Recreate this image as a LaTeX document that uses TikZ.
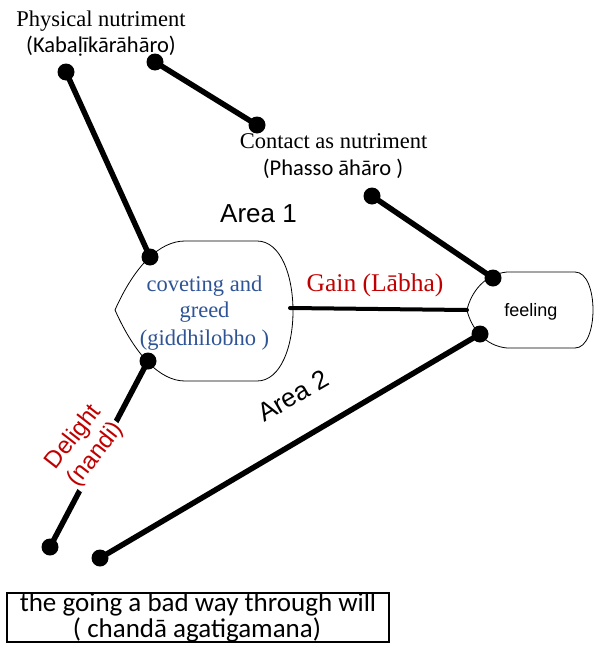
\documentclass[tikz,border=0pt]{standalone}
\usepackage{fontspec}
\setmainfont{Liberation Serif}
\newfontfamily\calfont{Carlito}
\newfontfamily\arialfont{Liberation Sans}
\definecolor{blueText}{RGB}{47,84,150}
\definecolor{redText}{RGB}{192,0,0}
\begin{document}
\begin{tikzpicture}[x=1pt,y=-1pt,
  conn/.style={line width=5.5pt},
  dotend/.style={circle,fill=black,inner sep=0pt,minimum size=17pt},
  shapeline/.style={line width=0.8pt},
  txt/.style={inner sep=0pt,anchor=base},
  serif22/.style={font=\fontsize{22.5}{27}\selectfont},
  cal22/.style={font=\calfont\fontsize{22.5}{27}\selectfont},
]
\useasboundingbox (0,0) rectangle (603,648);

% shapes
\draw[shapeline] (115,310) .. controls (135,265) and (160,241) .. (185,241) -- (257,241)
  .. controls (305,241) and (305,381) .. (257,381) -- (185,381)
  .. controls (160,381) and (135,355) .. (115,310) -- cycle;
\draw[shapeline] (467,310) .. controls (471,292) and (485,274) .. (507,272) -- (575,272)
  .. controls (599,272) and (599,348) .. (575,348) -- (507,348)
  .. controls (485,346) and (471,328) .. (467,310) -- cycle;

% endpoints
\node[dotend] (p1) at (66,72) {};
\node[dotend] (p2) at (150,257) {};
\node[dotend] (p3) at (155,62) {};
\node[dotend] (p4) at (257,125) {};
\node[dotend] (p5) at (372,196) {};
\node[dotend] (p6) at (493,278) {};
\node[dotend] (p7) at (148,361) {};
\node[dotend] (p8) at (50,547) {};
\node[dotend] (p9) at (480,334) {};
\node[dotend] (p10) at (100,558) {};
\coordinate (g1) at (290,308);
\coordinate (g2) at (467,310);

\draw[conn] (p1.center) -- (p2.center);
\draw[conn] (p3.center) -- (p4.center);
\draw[conn] (p5.center) -- (p6.center);
\draw[conn] (p7.center) -- (p8.center);
\draw[conn] (p9.center) -- (p10.center);
\draw[line width=4pt,line cap=round] (g1) -- (g2);

% texts
\node[txt,serif22] (t1) at (101,26.7) {Physical nutriment};
\node[txt,cal22] (t2) at (101,52.7) {(Kabaḷīkārāhāro)};
\node[txt,serif22] (t3) at (333.5,148.3) {Contact as nutriment};
\node[txt,cal22] (t4) at (333,175) {(Phasso āhāro )};
\node[txt,font=\arialfont\fontsize{26}{30}\selectfont] (a1) at (258.5,222.7) {Area 1};
\node[txt,serif22,text=blueText] (c1) at (204.5,291) {coveting and};
\node[txt,serif22,text=blueText] (c2) at (204.5,317.5) {greed};
\node[txt,serif22,text=blueText] (c3) at (204.5,345) {(giddhilobho )};
\node[txt,font=\fontsize{25.5}{30}\selectfont,text=redText] (gain) at (375,291.7) {Gain (Lābha)};
\node[txt,font=\arialfont\fontsize{18}{22}\selectfont] (feel) at (530.8,316) {feeling};
\node[inner sep=0pt,rotate=30,font=\arialfont\fontsize{26}{30}\selectfont] (a2) at (293,396) {Area 2};
\node[fill=white,inner sep=1pt,rotate=52,align=center,text=redText,font=\arialfont\fontsize{24}{28}\selectfont] (dl) at (85,446) {Delight\\(nandi)};

% bottom box
\draw[line width=1.5pt] (7,593) rectangle (389,642);
\node[txt,font=\calfont\fontsize{27}{27}\selectfont] (b1) at (198,611) {the going a bad way through will};
\node[txt,font=\calfont\fontsize{27}{27}\selectfont] (b2) at (197,637) {( chandā agatigamana)};
\end{tikzpicture}
\end{document}
